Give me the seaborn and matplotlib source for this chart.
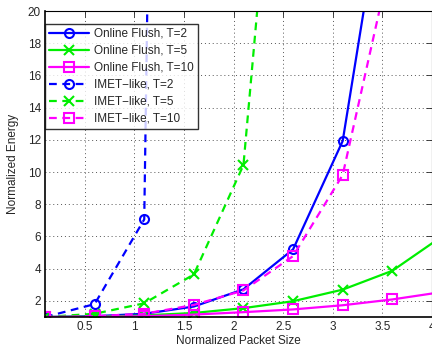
import numpy as np
import pandas as pd
import matplotlib
matplotlib.use("Agg")
import matplotlib.pyplot as plt
import seaborn as sns

x = [0.1, 0.6, 1.1, 1.6, 2.1, 2.6, 3.1, 3.6, 4.1]
online_t2 = [1.0, 1.05, 1.2, 1.65, 2.72, 5.2, 11.93, 31.0, 80.0]
online_t5 = [1.0, 1.02, 1.1, 1.25, 1.55, 1.98, 2.7, 3.87, 6.0]
online_t10 = [1.0, 1.0, 1.05, 1.15, 1.3, 1.47, 1.73, 2.09, 2.55]
imet_t2 = [1.0, 1.8, 7.06, 220.0, 500.0, 900.0, 1500.0, 2500.0, 4000.0]
imet_t5 = [1.0, 1.2, 1.85, 3.64, 10.44, 45.0, 150.0, 400.0, 900.0]
imet_t10 = [1.0, 1.05, 1.2, 1.75, 2.65, 4.78, 9.82, 23.6, 60.0]

labels = ["Online Flush, T=2", "Online Flush, T=5", "Online Flush, T=10",
          "IMET\u2212like, T=2", "IMET\u2212like, T=5", "IMET\u2212like, T=10"]
series = [online_t2, online_t5, online_t10, imet_t2, imet_t5, imet_t10]
colors = ["#0000ff", "#00ee00", "#ff00ff", "#0000ff", "#00ee00", "#ff00ff"]
markers = ["o", "x", "s", "o", "x", "s"]
dashed = [False, False, False, True, True, True]

sns.set_style("white")
plt.rcParams['font.family'] = ['Liberation Sans', 'DejaVu Sans']

fig = plt.figure(figsize=(4.32, 3.48), dpi=100)
ax = fig.add_axes([45/432, 1 - 317/348, 387/432, 306/348])

for lab, ys, c, m, d in zip(labels, series, colors, markers, dashed):
    df = pd.DataFrame({"x": x, "y": ys})
    kw = dict(data=df, x="x", y="y", ax=ax, color=c, label=lab, lw=1.6,
              marker=m, markersize=6.5, markerfacecolor="none",
              markeredgecolor=c, markeredgewidth=1.5, sort=False)
    sns.lineplot(**kw)
    if d:
        ax.lines[-1].set_dashes((3.5, 2.5))

ax.set_xlim(0.1, 4.0)
ax.set_ylim(1, 20)
ax.set_xticks([0.5, 1, 1.5, 2, 2.5, 3, 3.5, 4])
ax.set_xticklabels(["0.5", "1", "1.5", "2", "2.5", "3", "3.5", "4"])
ax.set_yticks(range(2, 21, 2))
ax.tick_params(direction="in", length=4, labelsize=8.5, top=True, right=True,
               width=0.6, pad=3)
ax.grid(True, linestyle=(0, (1, 3)), color="#555555", linewidth=0.7)
for s in ax.spines.values():
    s.set_color("black")
    s.set_linewidth(0.8)
ax.spines["left"].set_linewidth(1.2)
ax.spines["bottom"].set_linewidth(1.2)
ax.set_xlabel("Normalized Packet Size", fontsize=8.5, labelpad=1)
ax.set_ylabel("Normalized Energy", fontsize=8.5, labelpad=6)

leg = ax.legend(loc="upper left", bbox_to_anchor=(0.0, 0.958), fontsize=8.5,
                frameon=True, fancybox=False, edgecolor="black",
                borderpad=0.35, labelspacing=0.42, handlelength=3.4,
                handletextpad=0.4, borderaxespad=0.0)
leg.get_frame().set_linewidth(1.0)

fig.savefig("out.png", dpi=100)
